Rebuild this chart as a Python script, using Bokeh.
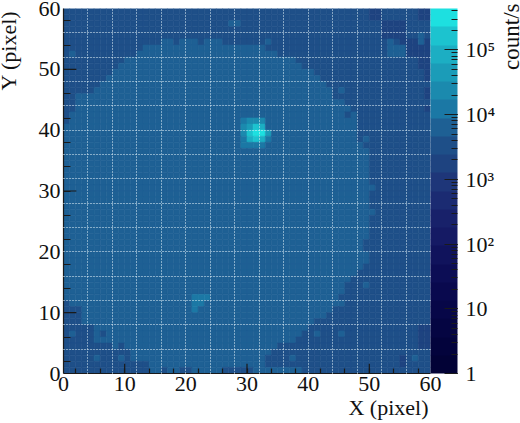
import math
from bokeh.plotting import figure
from bokeh.models import (ColumnDataSource, LogColorMapper, ColorBar, LogTicker, FixedTicker, Range1d)
from bokeh.core.properties import value
from bokeh.embed import file_html
from bokeh.resources import INLINE

# count rate of each level, read against the colour bar
LEVEL_RATE = {"a": 1750, "b": 3350, "c": 6400, "d": 12300, "e": 23500,
              "f": 45000, "g": 86000, "h": 165000, "i": 315000}

# palette, bottom band first
PALETTE = ["#020236", "#03033c", "#050542", "#070748", "#09094e", "#0c0d55",
           "#10135c", "#151a64", "#18216a", "#1b2b72", "#1e3679", "#1e4380",
           "#1e4f88", "#1e6094", "#1b78a5", "#1b8aae", "#1b9cb8", "#1caec3",
           "#1cc3cf", "#1de0e0"]
RATE_LOW = 1
RATE_HIGH = 436000

# one string per pixel row, top row (Y=59) first, one letter per X pixel
B10 = "bbbbbbbbbb"
C10 = "cccccccccc"
ROWS = [
    B10 + B10 + B10 + B10 + B10 + "aabbbbbbaa",
    B10 + B10 + B10 + B10 + B10 + "aabbbbbbaa",
    B10 + B10 + "bbbbbbbccb" + B10 + B10 + "bbaaaabbbb",
    B10 + B10 + B10 + B10 + B10 + "bbaaaabbbb",
    B10 + B10 + B10 + B10 + B10 + "bbaaaabbcb",
    B10 + "bbbbbbccbc" + "ccbcccbbbb" + "bbbcbbbbbb" + B10 + "bbbcbaaaca",
    B10 + "bbbccccccc" + C10 + "cccbbbbbbb" + B10 + "bbbcccaaaa",
    "bcbbbbbbbb" + "bbcccccccc" + C10 + "cccccbbbbb" + B10 + "bbbcccaaaa",
    B10 + C10 + C10 + "ccccccccbb" + B10 + "bbbbbbbbaa",
    "bbbbbbbbbc" + C10 + C10 + "cccccccccb" + B10 + "bbbbbbbbaa",
    "bbbbbbbbcc" + C10 + C10 + C10 + "cbbbbbbbbb" + "bbbbbbbbba",
    "bbbbbbbccc" + C10 + C10 + C10 + "ccbbbbbbbb" + "bbbbbbbbba",
    "bbbbbbcccc" + C10 + C10 + C10 + "cccbbbbbbb" + B10,
    "bbbbbccccc" + C10 + C10 + C10 + "ccccbcbbbb" + "bbbbbbbbba",
    "bbcccccccc" + C10 + C10 + C10 + "ccccbbbbbb" + "bbbbbbbbba",
    "bbcccccccc" + C10 + C10 + C10 + "ccccccbbbb" + B10,
    "bbcccccccc" + C10 + C10 + C10 + "cccccccbbb" + "bbbbbbbbba",
    "bccccccccc" + C10 + C10 + C10 + "ccccccbcbb" + B10,
    "bccccccccc" + C10 + "cccccccccd" + "eeeccccccc" + "ccccccccbb" + B10,
    C10 + C10 + "ccccccccce" + "fhgccccccc" + "ccccccccbb" + B10,
    C10 + C10 + "ccccccccce" + "hiifcccccc" + "ccccccccbb" + B10,
    C10 + C10 + "cccccccccd" + "ghgdcccccc" + "ccccccccbc" + B10,
    C10 + C10 + "cccccccccd" + "dddccccccc" + "cccccccccb" + B10,
    C10 + C10 + C10 + C10 + C10 + B10,
    C10 + C10 + C10 + C10 + C10 + B10,
    C10 + C10 + C10 + C10 + C10 + B10,
    C10 + C10 + C10 + C10 + C10 + B10,
    C10 + C10 + C10 + C10 + C10 + B10,
    C10 + C10 + C10 + C10 + C10 + B10,
    C10 + C10 + C10 + C10 + C10 + "cbbbbbbbbb",
    C10 + C10 + C10 + C10 + C10 + B10,
    C10 + C10 + C10 + C10 + C10 + B10,
    C10 + C10 + C10 + C10 + C10 + B10,
    C10 + C10 + C10 + C10 + C10 + "cbbbbbbbbb",
    C10 + C10 + C10 + C10 + C10 + B10,
    C10 + C10 + C10 + C10 + C10 + B10,
    C10 + C10 + C10 + C10 + C10 + B10,
    C10 + C10 + C10 + C10 + C10 + B10,
    C10 + C10 + C10 + C10 + "cccccccccb" + B10,
    C10 + C10 + C10 + C10 + "cccccccccb" + B10,
    C10 + C10 + C10 + C10 + C10 + B10,
    C10 + C10 + C10 + C10 + C10 + B10,
    C10 + C10 + C10 + C10 + "cccccccccb" + B10,
    C10 + C10 + C10 + C10 + "ccccccccbb" + B10,
    C10 + C10 + C10 + C10 + "cccccccbbb" + B10,
    C10 + C10 + C10 + C10 + "ccccccbbbc" + B10,
    C10 + C10 + C10 + C10 + "ccccccbbbb" + B10,
    C10 + C10 + "cdddcccccc" + C10 + "cccccbbbbb" + B10,
    "bccccccccc" + C10 + "cddccccccc" + C10 + "ccccccbbbb" + B10,
    "bbbccccccc" + C10 + "cdcccccccc" + C10 + "ccccbbbbbb" + B10,
    "bbbccccccc" + C10 + C10 + C10 + "cccbbbbbbb" + B10,
    "bbbccccccc" + C10 + C10 + C10 + "cbbbbbbbbb" + B10,
    "bbbbbccccc" + C10 + C10 + C10 + B10 + "bbbbbbbbaa",
    "bcbbbcbccc" + C10 + C10 + "cccccccccb" + "bcbbbcbbbb" + "bbbbbbbbaa",
    "bbbbbccccc" + C10 + C10 + "ccccccccbb" + B10 + "bbbbbbbbaa",
    "bbbbbbbbcb" + C10 + C10 + "cccccbbbbb" + B10 + "bbbbbbbbaa",
    B10 + "bccccccccc" + C10 + "ccccbbbbbb" + B10 + B10,
    "bbbbbcbbbc" + "bccccccccc" + C10 + "cccbbbbcbb" + B10 + "bbbbbabcbb",
    B10 + "bbbbcccccc" + C10 + "cccbbbbbbb" + B10 + "bbbbbabbbb",
    B10 + "bbbbccbccb" + "bcccccbbbb" + "bccccccccb" + B10 + B10,
]

TITLE_X = "X (pixel)"
TITLE_Y = "Y (pixel)"
TITLE_Z = "count/s"
AXIS_LABEL_TICKS = [0, 10, 20, 30, 40, 50, 60]
LONG_TICKS = [10, 30, 50]
SHORT_TICKS = [2, 6, 10, 14, 18, 22, 26, 30, 34, 38, 42, 46, 50, 54, 58]
GRID_TICKS = [0, 4, 8, 12, 16, 20, 24, 28, 32, 36, 40, 44, 48, 52, 56, 60]
RATE_LABELS = {1: "1", 10: "10", 100: "10²", 1000: "10³", 10000: "10⁴", 100000: "10⁵"}

SERIF = "Liberation Serif"
INK = "#1a1a1a"

left, right, bottom, top, rate = [], [], [], [], []
for r, row in enumerate(ROWS):
    y = len(ROWS) - 1 - r
    for x, ch in enumerate(row):
        left.append(x); right.append(x + 1); bottom.append(y); top.append(y + 1)
        rate.append(LEVEL_RATE[ch])
src = ColumnDataSource(dict(left=left, right=right, bottom=bottom, top=top, rate=rate))

mapper = LogColorMapper(palette=PALETTE, low=RATE_LOW, high=RATE_HIGH)

p = figure(width=520, height=423, frame_width=367, frame_height=365,
           output_backend="svg", toolbar_location=None,
           x_range=Range1d(0, 60), y_range=Range1d(0, 60),
           min_border_left=63, min_border_top=8, min_border_bottom=50, min_border_right=0,
           margin=(0, 0, 0, 0), background_fill_color=None, border_fill_color=None)
p.styles = {"position": "absolute", "left": "0px", "top": "0px"}
p.outline_line_color = None

p.quad(left="left", right="right", bottom="bottom", top="top", source=src,
       fill_color={"field": "rate", "transform": mapper},
       line_color={"field": "rate", "transform": mapper}, line_width=0.6)

# ticks of 10, 30, 50: the grid covers those at multiples of 4
p.segment(x0=LONG_TICKS, y0=[0] * 3, x1=LONG_TICKS, y1=[1.6] * 3, line_color=INK, line_width=1.2)
p.segment(x0=[0] * 3, y0=LONG_TICKS, x1=[2.1] * 3, y1=LONG_TICKS, line_color=INK, line_width=1.2)

for ax, tick_in in ((p.xaxis[0], 5), (p.yaxis[0], 7)):
    ax.ticker = FixedTicker(ticks=AXIS_LABEL_TICKS, minor_ticks=SHORT_TICKS)
    ax.major_tick_in = 0
    ax.major_tick_out = 0
    ax.minor_tick_in = tick_in
    ax.minor_tick_out = 0
    ax.minor_tick_line_color = INK
    ax.minor_tick_line_width = 1.2
    ax.axis_line_color = INK
    ax.axis_line_width = 1.2
    ax.major_label_text_font = SERIF
    ax.major_label_text_font_size = "22px"
    ax.major_label_text_color = "#111111"
p.xaxis.major_label_standoff = 3
p.yaxis.major_label_standoff = 3
p.yaxis.major_label_orientation = "horizontal"

p.xgrid.ticker = FixedTicker(ticks=GRID_TICKS)
p.ygrid.ticker = FixedTicker(ticks=GRID_TICKS)
for g in (p.xgrid[0], p.ygrid[0]):
    g.level = "overlay"
    g.grid_line_color = "#e4f4fb"
    g.grid_line_dash = "1 2"
    g.grid_line_width = 1

cb = ColorBar(color_mapper=mapper, ticker=LogTicker(num_minor_ticks=10),
              width=27, height=365, padding=0, margin=2,
              major_label_overrides=RATE_LABELS,
              major_label_text_font=SERIF, major_label_text_font_size="22px",
              major_label_text_color="#111111", label_standoff=8,
              major_tick_in=13, major_tick_out=0, major_tick_line_color=INK,
              minor_tick_in=6, minor_tick_out=0, minor_tick_line_color=INK,
              bar_line_color=None, background_fill_color=None)
p.add_layout(cb, "right")

# see-through layer over the whole page, in page pixels, for the three axis titles
titles = figure(width=520, height=423, output_backend="svg", toolbar_location=None,
                x_range=Range1d(0, 520), y_range=Range1d(423, 0),
                x_axis_type=None, y_axis_type=None,
                min_border_left=0, min_border_top=0, min_border_bottom=0, min_border_right=0,
                margin=(0, 0, 0, 0), background_fill_color=None, border_fill_color=None)
titles.styles = {"position": "absolute", "left": "0px", "top": "0px"}
titles.outline_line_color = None
titles.text(x=[428], y=[407], text=[TITLE_X], text_align="right", text_baseline="alphabetic",
            text_font=value(SERIF), text_font_size="22px", text_color="#111111")
titles.text(x=[8], y=[10], text=[TITLE_Y], angle=math.pi / 2, text_align="right", text_baseline="alphabetic",
            text_font=value(SERIF), text_font_size="22px", text_color="#111111")
titles.text(x=[511], y=[3], text=[TITLE_Z], angle=math.pi / 2, text_align="right", text_baseline="alphabetic",
            text_font=value(SERIF), text_font_size="23px", text_color="#111111")

open("out.html", "w").write(file_html((p, titles), INLINE))
